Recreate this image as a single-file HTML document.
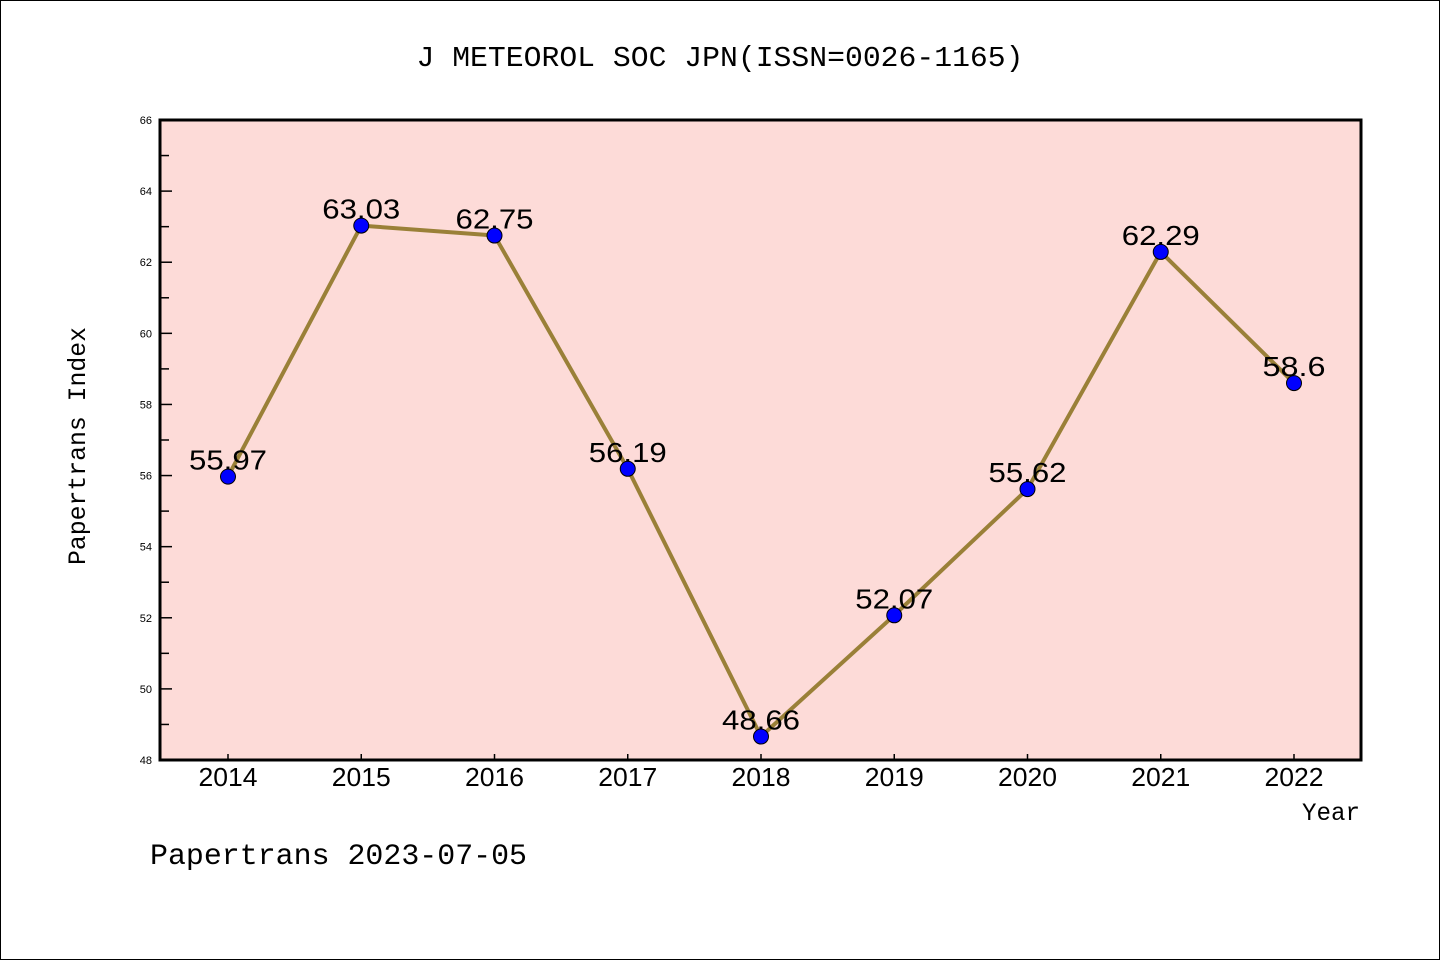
<!DOCTYPE html>
<html><head><meta charset="utf-8"><style>
html,body{margin:0;padding:0;background:#fff}
svg{display:block}
</style></head><body>
<svg id="chart" width="1440" height="960" xmlns="http://www.w3.org/2000/svg">
<rect x="0.5" y="0.5" width="1439" height="959" fill="#fff" stroke="#000" stroke-width="1"/>
<text x="720" y="66" text-anchor="middle" font-family="Liberation Mono, monospace" font-size="29" textLength="607" lengthAdjust="spacingAndGlyphs">J METEOROL SOC JPN(ISSN=0026-1165)</text>
<rect x="160" y="120" width="1201" height="640" fill="#fddbd8"/>
<g id="grid"></g>
<g id="series"></g>
<rect x="160" y="120" width="1201" height="640" fill="none" stroke="#000" stroke-width="3"/>
<text transform="translate(85,446) rotate(-90)" text-anchor="middle" font-family="Liberation Mono, monospace" font-size="25" textLength="238" lengthAdjust="spacingAndGlyphs">Papertrans Index</text>
<text x="1360" y="820" text-anchor="end" font-family="Liberation Mono, monospace" font-size="25" textLength="58" lengthAdjust="spacingAndGlyphs">Year</text>
<text x="150" y="864" font-family="Liberation Mono, monospace" font-size="30" textLength="377" lengthAdjust="spacingAndGlyphs">Papertrans 2023-07-05</text>
</svg>
<script>
const years = ['2014','2015','2016','2017','2018','2019','2020','2021','2022'];
const values = [55.97, 63.03, 62.75, 56.19, 48.66, 52.07, 55.62, 62.29, 58.6];
const valueLabels = ['55.97','63.03','62.75','56.19','48.66','52.07','55.62','62.29','58.6'];
const yTicks = [48,50,52,54,56,58,60,62,64,66];

const NS='http://www.w3.org/2000/svg';
const yMin=48,yMax=66,plotTop=120,plotBottom=760;
function yScale(v){return plotBottom-(v-yMin)/(yMax-yMin)*(plotBottom-plotTop);}
const x0=228,x1=1294;
function xScale(i){return x0+i*(x1-x0)/(years.length-1);}
function mk(tag,attrs,parent){const e=document.createElementNS(NS,tag);for(const k in attrs)e.setAttribute(k,attrs[k]);parent.appendChild(e);return e;}
const grid=document.getElementById('grid');
const series=document.getElementById('series');
yTicks.forEach((t,i)=>{
  const y=yScale(t);
  const tk=mk('line',{x1:160,x2:172,y1:y,y2:y,stroke:'#000','stroke-width':1.5},grid);
  
  
  const lb=mk('text',{x:152,y:y+4,'text-anchor':'end','font-family':'Liberation Sans, sans-serif','font-size':11},grid);
  lb.textContent=t;
  
  
  if(i<yTicks.length-1){
    const ym=yScale(t+1);
    const mn=mk('line',{x1:160,x2:169,y1:ym,y2:ym,stroke:'#000','stroke-width':1.5},grid);
    
    
  }
});
years.forEach((yr,i)=>{
  const x=xScale(i);
  const tk=mk('line',{x1:x,x2:x,y1:760,y2:754,stroke:'#000','stroke-width':1.5},grid);
  
  
  const lb=mk('text',{x:x,y:786,'text-anchor':'middle','font-family':'Liberation Sans, sans-serif','font-size':26,textLength:59,lengthAdjust:'spacingAndGlyphs'},grid);
  lb.textContent=yr;
  
  
});
const pts=values.map((v,i)=>xScale(i)+','+yScale(v)).join(' ');
const line=mk('polyline',{points:pts,fill:'none',stroke:'#9a8038','stroke-width':4,'stroke-linejoin':'round'},series);


values.forEach((v,i)=>{
  const x=xScale(i),y=yScale(v);
  const s=valueLabels[i];
  const t=mk('text',{x:x,y:y-7,'text-anchor':'middle','font-family':'Liberation Sans, sans-serif','font-size':28,textLength:(s.length>4?78:63),lengthAdjust:'spacingAndGlyphs'},series);
  t.textContent=s;
  
  
});
values.forEach((v,i)=>{
  const x=xScale(i),y=yScale(v);
  const c=mk('circle',{cx:x,cy:y,r:7.5,fill:'#0000ff',stroke:'#000','stroke-width':1},series);
  
  
});
</script>
</body></html>
